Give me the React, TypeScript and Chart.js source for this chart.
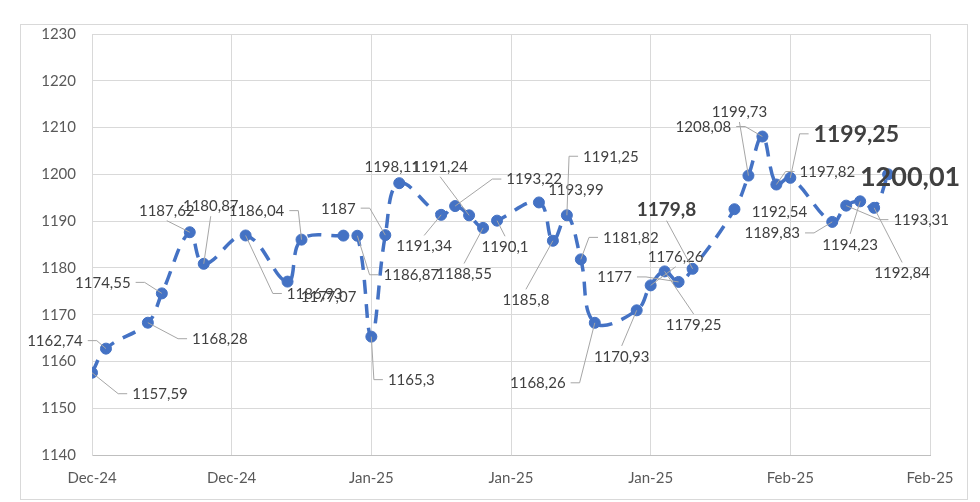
import React, { useEffect, useRef } from "react";
import { Chart, registerables } from "chart.js";

Chart.register(...registerables);

// ---- data ----
const xTickLabels = ["Dec-24", "Dec-24", "Jan-25", "Jan-25", "Jan-25", "Feb-25", "Feb-25"];
// day offset of each observation from the first axis tick
const days = [
  0, 1, 4, 5, 7, 8, 11, 14, 15,
  18, 19, 20, 21, 22,
  25, 26, 27, 28, 29,
  32, 33, 34, 35, 36,
  39, 40, 41, 42, 43,
  46, 47, 48, 49, 50,
  53, 54, 55, 56, 57,
];
const rates = [
  1157.59, 1162.74, 1168.28, 1174.55, 1187.62, 1180.87, 1186.93, 1177.07, 1186.04,
  1186.9, 1186.87, 1165.3, 1187, 1198.11,
  1191.34, 1193.22, 1191.24, 1188.55, 1190.1,
  1193.99, 1185.8, 1191.25, 1181.82, 1168.26,
  1170.93, 1176.26, 1179.25, 1177, 1179.8,
  1192.54, 1199.73, 1208.08, 1197.82, 1199.25,
  1189.83, 1193.31, 1194.23, 1192.84, 1200.01,
];
const yMin = 1140;
const yMax = 1230;
const yStep = 10;
const xMin = 0;
const xMax = 60;
const xStep = 10;

// ---- label layout (pixel offset of label centre from its point, leader mode, font size) ----
// mode: 0 = no leader, 1 = side elbow leader, 2 = straight leader from top/bottom
type Lay = [number, number, number, number] | null;
const labelLayout: Lay[] = [
  [68, 21, 1, 15],
  [-51, -8, 1, 15],
  [72, 16, 1, 15],
  [-59, -11, 1, 15],
  [-23, -22, 2, 15],
  [7, -58, 2, 15],
  [69, 58, 1, 15],
  [41, 15, 0, 15],
  [-45, -29, 1, 15],
  null,
  [54, 39, 1, 15],
  [40, 43, 1, 15],
  [-47, -27, 1, 15],
  [-7, -17, 0, 15],
  [-17, 31, 2, 15],
  [79, -27, 1, 15],
  [-29, -49, 2, 15],
  [-19, 46, 2, 15],
  [8, 26, 2, 15],
  [37, -13, 0, 15],
  [-27, 59, 2, 15],
  [44, -59, 1, 15],
  [50, -22, 1, 15],
  [-57, 60, 1, 15],
  [-15, 46, 2, 15],
  [25, -29, 2, 15],
  [29, 53, 2, 15],
  [-64, -5, 1, 15],
  [-26, -60, 2, 19],
  [45, 2, 0, 15],
  [-9, -64, 2, 15],
  [-59, -10, 1, 15],
  [51, -13, 1, 15],
  [66, -44, 1, 23],
  [-60, 11, 1, 15],
  [75, 14, 1, 15],
  [-10, 43, 2, 15],
  [28, 65, 2, 15],
  [22, 2, 0, 27],
];

const FONT = "Lato, 'Open Sans', sans-serif";

const framePlugin = {
  id: "frame",
  beforeDraw(chart: any) {
    const ctx = chart.ctx;
    ctx.save();
    ctx.fillStyle = "#ffffff";
    ctx.fillRect(0, 0, chart.width, chart.height);
    ctx.strokeStyle = "#d9d9d9";
    ctx.lineWidth = 1;
    ctx.strokeRect(20.5, 24.5, 947, 475);
    ctx.restore();
  },
};

const labelPlugin = {
  id: "pointLabels",
  afterDatasetsDraw(chart: any) {
    const ctx = chart.ctx;
    const meta = chart.getDatasetMeta(0);
    meta.data.forEach((pt: any, i: number) => {
      const lay = labelLayout[i];
      if (!lay) return;
      const [dx, dy, mode, size] = lay;
      const bold = size > 15;
      const text = String(rates[i]).replace(".", ",");
      ctx.save();
      ctx.font = `${bold ? "bold " : ""}${size}px ${FONT}`;
      const w = ctx.measureText(text).width;
      const cap = size * 0.72;
      const cx = pt.x + dx;
      const cy = pt.y + dy;
      const left = cx - w / 2;
      const right = cx + w / 2;
      if (mode) {
        ctx.strokeStyle = "#a6a6a6";
        ctx.lineWidth = 1;
        ctx.beginPath();
        if (mode === 1) {
          const toLeft = pt.x < cx;
          const side = toLeft ? left - 5 : right + 5;
          const stub = toLeft ? side - 9 : side + 9;
          ctx.moveTo(side, cy);
          ctx.lineTo(stub, cy);
          ctx.lineTo(pt.x, pt.y);
        } else {
          const ey = pt.y < cy ? cy - cap / 2 - 5 : cy + cap / 2 + 5;
          ctx.moveTo(cx, ey);
          ctx.lineTo(pt.x, pt.y);
        }
        ctx.stroke();
      }
      ctx.fillStyle = "#404040";
      ctx.textAlign = "center";
      ctx.textBaseline = "alphabetic";
      ctx.fillText(text, cx, cy + cap / 2);
      ctx.restore();
    });
  },
};

export default function App() {
  const ref = useRef<HTMLCanvasElement | null>(null);

  useEffect(() => {
    if (!ref.current) return;
    const points = days.map((d, i) => ({ x: d, y: rates[i] }));
    const chart = new Chart(ref.current, {
      type: "line",
      data: {
        datasets: [
          {
            data: points,
            borderColor: "#4472C4",
            backgroundColor: "#4472C4",
            borderWidth: 3.5,
            borderDash: [14, 10],
            tension: 0.4,
            pointRadius: 5.5,
            pointBackgroundColor: "#4472C4",
            pointBorderColor: "#4472C4",
            pointBorderWidth: 1,
            fill: false,
          },
        ],
      },
      options: {
        animation: false,
        responsive: false,
        devicePixelRatio: 1,
        parsing: false as any,
        layout: { padding: { left: 0, right: 50, top: 34, bottom: 0 } },
        plugins: {
          legend: { display: false },
          tooltip: { enabled: false },
          title: { display: false },
        },
        scales: {
          x: {
            type: "linear",
            min: xMin,
            max: xMax,
            afterFit: (s: any) => {
              s.height = 47;
            },
            grid: { color: "#d9d9d9", lineWidth: 1, drawTicks: false },
            border: { color: "#bfbfbf", width: 1 },
            ticks: {
              stepSize: xStep,
              autoSkip: false,
              maxRotation: 0,
              padding: 14,
              color: "#595959",
              font: { family: FONT, size: 15 },
              callback: (_v: any, i: number) => xTickLabels[i],
            },
          },
          y: {
            type: "linear",
            min: yMin,
            max: yMax,
            afterFit: (s: any) => {
              s.width = 92;
            },
            grid: { color: "#d9d9d9", lineWidth: 1, drawTicks: false },
            border: { color: "#d9d9d9", width: 1 },
            ticks: {
              stepSize: yStep,
              padding: 16,
              color: "#595959",
              font: { family: FONT, size: 15 },
              callback: (v: any) => String(v),
            },
          },
        },
      },
      plugins: [framePlugin, labelPlugin],
    });
    return () => chart.destroy();
  }, []);

  return (
    <div style={{ position: "absolute", left: 0, top: 0, width: 980, height: 502 }}>
      <canvas ref={ref} width={980} height={502} style={{ width: 980, height: 502, display: "block" }} />
    </div>
  );
}
